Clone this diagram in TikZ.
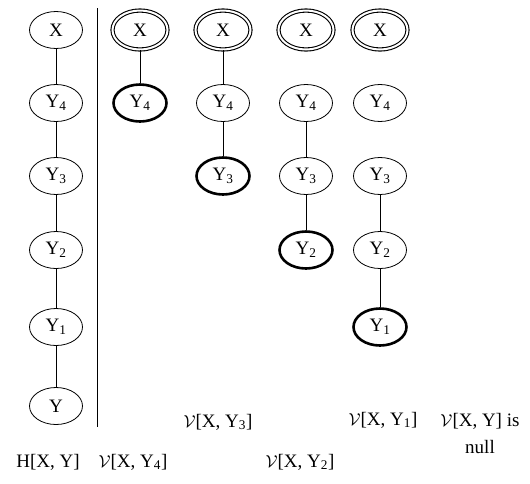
\documentclass[tikz,border=0pt]{standalone}
\usepackage{fontspec}
\setmainfont{Liberation Serif}
\usepackage{tikz}
\usetikzlibrary{shapes.geometric}

\begin{document}
\begin{tikzpicture}[
    x=1pt, y=-1pt,
    var/.style = {
        ellipse,
        draw=black,
        line width=0.8pt,
        minimum width=53pt,
        minimum height=37pt,
        inner sep=0pt,
        font=\fontsize{19}{21}\selectfont
    },
    root/.style   = {var, double, line width=1.1pt, double distance=2pt, minimum width=55pt, minimum height=39pt},
    target/.style = {var, line width=2.6pt},
    link/.style   = {draw=black, line width=0.8pt},
    caption/.style = {align=center, inner sep=0pt, font=\fontsize{19}{27}\selectfont}
]

\useasboundingbox (0,0) rectangle (530,483);

% Define spacing
\def\rX{30}
\def\rFour{103}
\def\rThree{176}
\def\rTwo{250}
\def\rOne{327}
\def\rY{406}

% Column H: full chain
\node[var] (h-x)  at (56,\rX)     {X};
\node[var] (h-y4) at (56,\rFour)  {Y\textsubscript{4}};
\node[var] (h-y3) at (56,\rThree) {Y\textsubscript{3}};
\node[var] (h-y2) at (56,\rTwo)   {Y\textsubscript{2}};
\node[var] (h-y1) at (56,\rOne)   {Y\textsubscript{1}};
\node[var] (h-y)  at (56,\rY)     {Y};

\draw[link] (h-x) -- (h-y4) -- (h-y3) -- (h-y2) -- (h-y1) -- (h-y);

% Separator
\coordinate (sep-top) at (97,8);
\coordinate (sep-bot) at (97,427);
\draw[link] (sep-top) -- (sep-bot);

% Column V[X,Y4]
\node[root]   (v4-x)  at (140,\rX)    {X};
\node[target] (v4-y4) at (140,\rFour) {Y\textsubscript{4}};
\draw[link] (v4-x) -- (v4-y4);

% Column V[X,Y3]
\node[root]   (v3-x)  at (223,\rX)     {X};
\node[var]    (v3-y4) at (223,\rFour)  {Y\textsubscript{4}};
\node[target] (v3-y3) at (223,\rThree) {Y\textsubscript{3}};
\draw[link] (v3-x) -- (v3-y4) -- (v3-y3);

% Column V[X,Y2]
\node[root]   (v2-x)  at (306,\rX)     {X};
\node[var]    (v2-y4) at (306,\rFour)  {Y\textsubscript{4}};
\node[var]    (v2-y3) at (306,\rThree) {Y\textsubscript{3}};
\node[target] (v2-y2) at (306,\rTwo)   {Y\textsubscript{2}};
\draw[link] (v2-y4) -- (v2-y3) -- (v2-y2);

% Column V[X,Y1]
\node[root]   (v1-x)  at (380,\rX)     {X};
\node[var]    (v1-y4) at (380,\rFour)  {Y\textsubscript{4}};
\node[var]    (v1-y3) at (380,\rThree) {Y\textsubscript{3}};
\node[var]    (v1-y2) at (380,\rTwo)   {Y\textsubscript{2}};
\node[target] (v1-y1) at (380,\rOne)   {Y\textsubscript{1}};
\draw[link] (v1-y3) -- (v1-y2) -- (v1-y1);

% Captions
\node[caption] (cap-h)  at (48,462)  {H[X, Y]};
\node[caption] (cap-v4) at (133,462) {$\mathcal{V}$[X, Y\textsubscript{4}]};
\node[caption] (cap-v3) at (218,422) {$\mathcal{V}$[X, Y\textsubscript{3}]};
\node[caption] (cap-v2) at (300,462) {$\mathcal{V}$[X, Y\textsubscript{2}]};
\node[caption] (cap-v1) at (383,420) {$\mathcal{V}$[X, Y\textsubscript{1}]};
\node[caption] (cap-v)  at (480,433) {$\mathcal{V}$[X, Y] is\\null};

\end{tikzpicture}
\end{document}
